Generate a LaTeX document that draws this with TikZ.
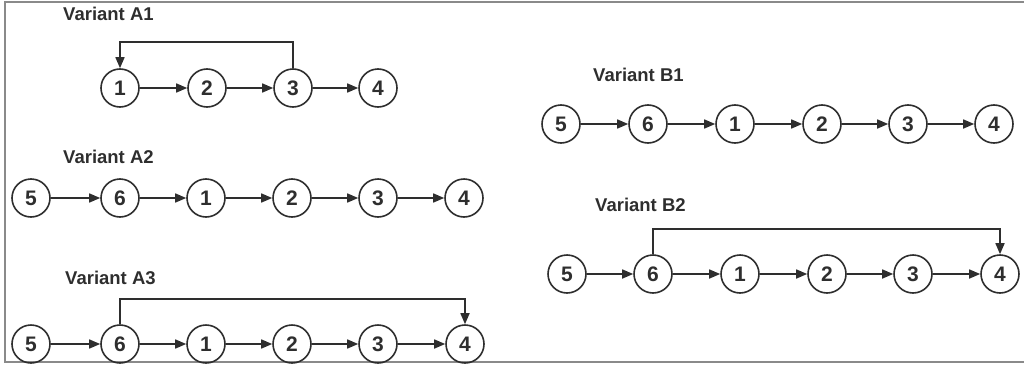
\documentclass[tikz,border=0pt]{standalone}
\usepackage{fontspec}
\setmainfont{Liberation Sans}
\usetikzlibrary{arrows.meta}
\definecolor{ink}{HTML}{2E2E2E}
\definecolor{rim}{HTML}{8A8A8A}
\begin{document}
\begin{tikzpicture}[x=1pt,y=-1pt,
  state/.style={circle,draw=ink,line width=1.6pt,minimum size=38pt,inner sep=0pt,
    text=ink,font=\fontsize{21}{21}\selectfont\bfseries},
  flow/.style={draw=ink,line width=1.6pt,-{Triangle[length=11pt,width=9pt]}},
  title/.style={anchor=west,inner sep=0pt,text=ink,font=\fontsize{18.5}{20}\selectfont\bfseries}]
\useasboundingbox (0,0) rectangle (1024,364);
% frame
\draw[rim,line width=1.2pt] (1024,2) -- (5,2) -- (5,362) -- (1024,362);

% Variant A1
\node[title] (tA1) at (63,14) {Variant A1};
\foreach \n/\x in {1/120,2/207,3/293,4/378}
  \node[state] (A1n\n) at (\x,88) {\n};
\foreach \a/\b in {1/2,2/3,3/4}
  \draw[flow] (A1n\a) -- (A1n\b);
\coordinate (A1k) at (120,42);
\draw[flow] (A1n3.north) |- (A1k) -- (A1n1.north);

% Variant A2
\node[title] (tA2) at (63,157) {Variant A2};
\foreach \n/\x in {5/31,6/120,1/206,2/292,3/378,4/464}
  \node[state] (A2n\n) at (\x,198) {\n};
\foreach \a/\b in {5/6,6/1,1/2,2/3,3/4}
  \draw[flow] (A2n\a) -- (A2n\b);

% Variant A3
\node[title] (tA3) at (65,278) {Variant A3};
\foreach \n/\x in {5/31,6/120,1/206,2/292,3/378,4/465}
  \node[state] (A3n\n) at (\x,344) {\n};
\foreach \a/\b in {5/6,6/1,1/2,2/3,3/4}
  \draw[flow] (A3n\a) -- (A3n\b);
\coordinate (A3k) at (465,299);
\draw[flow] (A3n6.north) |- (A3k) -- (A3n4.north);

% Variant B1
\node[title] (tB1) at (593,75) {Variant B1};
\foreach \n/\x in {5/561,6/648,1/735,2/822,3/908,4/994}
  \node[state] (B1n\n) at (\x,124) {\n};
\foreach \a/\b in {5/6,6/1,1/2,2/3,3/4}
  \draw[flow] (B1n\a) -- (B1n\b);

% Variant B2
\node[title] (tB2) at (595,205) {Variant B2};
\foreach \n/\x in {5/567,6/653,1/740,2/827,3/913,4/1000}
  \node[state] (B2n\n) at (\x,274) {\n};
\foreach \a/\b in {5/6,6/1,1/2,2/3,3/4}
  \draw[flow] (B2n\a) -- (B2n\b);
\coordinate (B2k) at (1000,229);
\draw[flow] (B2n6.north) |- (B2k) -- (B2n4.north);
\end{tikzpicture}
\end{document}
